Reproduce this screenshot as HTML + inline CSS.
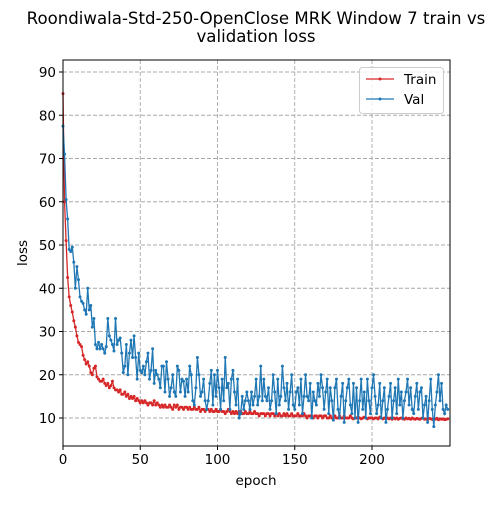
<!DOCTYPE html>
<html><head><meta charset="utf-8"><style>
body{margin:0;background:#fff}
svg{font-family:"DejaVu Sans","Liberation Sans",sans-serif}
</style></head><body>
<svg id="chart" width="500" height="500" xmlns="http://www.w3.org/2000/svg">
<rect width="500" height="500" fill="#fff"/>
<text x="256" y="24" text-anchor="middle" font-size="16.6">Roondiwala-Std-250-OpenClose MRK Window 7 train vs</text>
<text x="256" y="42" text-anchor="middle" font-size="16.6">validation loss</text>
<g id="grid"></g><g id="series"></g><g id="axes"></g>
<text x="256" y="485" text-anchor="middle" font-size="13.5">epoch</text>
<text x="27" y="253" text-anchor="middle" font-size="13.5" transform="rotate(-90 27 253)">loss</text>
<g>
<rect x="359.5" y="67.5" width="84" height="46" rx="3" fill="#fff" fill-opacity="0.8" stroke="#ccc"/>
<g><line x1="366" y1="79" x2="394" y2="79" stroke="#d62728" stroke-width="1.2"/><circle cx="380" cy="79" r="1.5" fill="#d62728"/><text x="404" y="84" font-size="13.5">Train</text></g>
<g><line x1="366" y1="99" x2="394" y2="99" stroke="#1f77b4" stroke-width="1.2"/><circle cx="380" cy="99" r="1.5" fill="#1f77b4"/><text x="404" y="104" font-size="13.5">Val</text></g>
</g>
</svg>
<script>
const xTicks=[0,50,100,150,200];
const yTicks=[10,20,30,40,50,60,70,80,90];
const trainLoss=[85,60,51,42.5,38,36,34.5,32.5,31,29,
27.5,27,26.5,24.5,23.5,22.5,23,22,20.5,20,
21.5,22,19.5,19,18.5,18.5,19,18,17.5,18,
17,17.5,18.5,17,16.5,16.5,16,16.5,15.5,15.5,
16,15,15.5,14.5,15,14.5,15,14,14.5,14,
13.5,14,13.5,14,13.5,13,13.5,13.5,13,14,
13,13.5,13,12.5,13,12.5,13,12.5,12.5,13,
12.5,12,13,12.5,13,12,12.5,12.5,12,12.5,
12.5,12,12.5,12,12,12.5,12,12,12.5,11.5,
12,12,11.5,12,12,11.5,12,11.5,11.5,12,
11.5,11.5,12,11.5,11.5,11,11.5,12,11.5,11,
11.5,11,11.5,11,11.5,11.5,11,11,11.5,11,
11,11.5,11,11,11.5,11,11,10.5,11,11,
11,10.5,11,11,10.5,11,11,10.5,11,10.5,
11,10.5,10.5,11,10.5,11,10.5,10.5,11,10.5,
10.5,10.5,11,10.5,10.5,10.5,11,10.5,10,10.5,
10.5,10.5,10,10.5,10.5,10,10.5,10.5,10,10.5,
10.5,10,10,10.5,10,10,10.5,10,10,10.5,
10,10,10.5,10,10,10,10.5,10,9.8,10,
10,10.2,10,9.8,10,10.2,10,9.8,10,10,
10,9.8,10,10,9.8,10.2,10,9.8,10,9.8,
10,9.8,10,9.7,10,9.8,10,9.7,9.9,10,
9.8,9.7,10,9.8,9.9,9.7,10,9.8,9.7,9.9,
9.8,9.7,9.9,10,9.7,9.8,9.6,9.9,9.8,9.7,
9.8,9.7,9.9,9.6,9.8,9.7,9.8,9.6,9.7,9.8];
const valLoss=[77.5,71,60.5,56,49,48.5,49.5,46,40,45,
42,38,37,36.5,35,34,40,35,36,31,
33,27,26,27.5,26,27,26,25,26.5,33,
29,28,27,25.5,33,27,28,28.5,25,20.5,
22,27,20,25,28,24,29,24,19,25,
21,20.5,22,20,23,25,19,21,26,18,
21,20,19,17,22,22,16,23,19,15,
17,20,16,15,22,21,16,19,18.5,15,
19,16,22,20,14,13,17,24,20,15,
16,19,14,12,14,18,21,13,20,15,
21,17,12,19,14,24,17,18,12,19,
21,16,13,19,10,11,15,12,14,16,
14,12,16,13,15,19,13,15,22,14,
19,15,14,17,12,14,20,16,11,19,
13,15,22,17,14,18,12,16,20,13,
12,16,17,13,19,11,15,20,15,14,
18,10,16,14,13,18,15,20,17,12,
16,19,11,17,14,9.5,17,19,12,10,
15,18,9,14,17,19,13,11,18,10,
17,9,14,19,12,16,10,19,14,11,
17,20,15,11,13,18,10,14,17,9,
12,15,18,10,14,17,11,19,13,16,
10,14,16,19,13,17,12,11,15,18,
12,16,17,10,13,15,9,14,19,12,
8,13,16,20,14,18,12,11,13,12];
const NS='http://www.w3.org/2000/svg';
const L=63,R=450,T=60,B=446;
const xScale=e=>L+e*(372-63)/200;
const yScale=v=>418-(v-10)*(418-72)/80;
function mk(tag,attrs,parent){const el=document.createElementNS(NS,tag);for(const k in attrs)el.setAttribute(k,attrs[k]);parent.appendChild(el);return el;}
const grid=document.getElementById('grid'),axes=document.getElementById('axes'),ser=document.getElementById('series');
xTicks.forEach(t=>{const x=xScale(t);
const g=mk('line',{x1:x,x2:x,y1:T,y2:B,stroke:'#a8a8a8','stroke-dasharray':'4,2','stroke-width':0.9},grid);


mk('line',{x1:x,x2:x,y1:B,y2:B+4,stroke:'#000'},axes);
const tx=mk('text',{x:x,y:B+18,'text-anchor':'middle','font-size':13.5},axes);tx.textContent=t;

});
yTicks.forEach(t=>{const y=yScale(t);
const g=mk('line',{x1:L,x2:R,y1:y,y2:y,stroke:'#a8a8a8','stroke-dasharray':'4,2','stroke-width':0.9},grid);


mk('line',{x1:L-4,x2:L,y1:y,y2:y,stroke:'#000'},axes);
const tx=mk('text',{x:L-7,y:y+5,'text-anchor':'end','font-size':13.5},axes);tx.textContent=t;

});
const frame=mk('rect',{x:L,y:T,width:R-L,height:B-T,fill:'none',stroke:'#000','stroke-width':1},axes);


function drawSeries(data,color,name){
const g=mk('g',{},ser);


const pts=data.map((v,i)=>xScale(i)+','+yScale(v)).join(' ');
mk('polyline',{points:pts,fill:'none',stroke:color,'stroke-width':1.3},g);
data.forEach((v,i)=>{const c=mk('circle',{cx:xScale(i),cy:yScale(v),r:1.5,fill:color},g);

});}
drawSeries(trainLoss,'#d62728','train-series');
drawSeries(valLoss,'#1f77b4','val-series');
</script>
</body></html>
